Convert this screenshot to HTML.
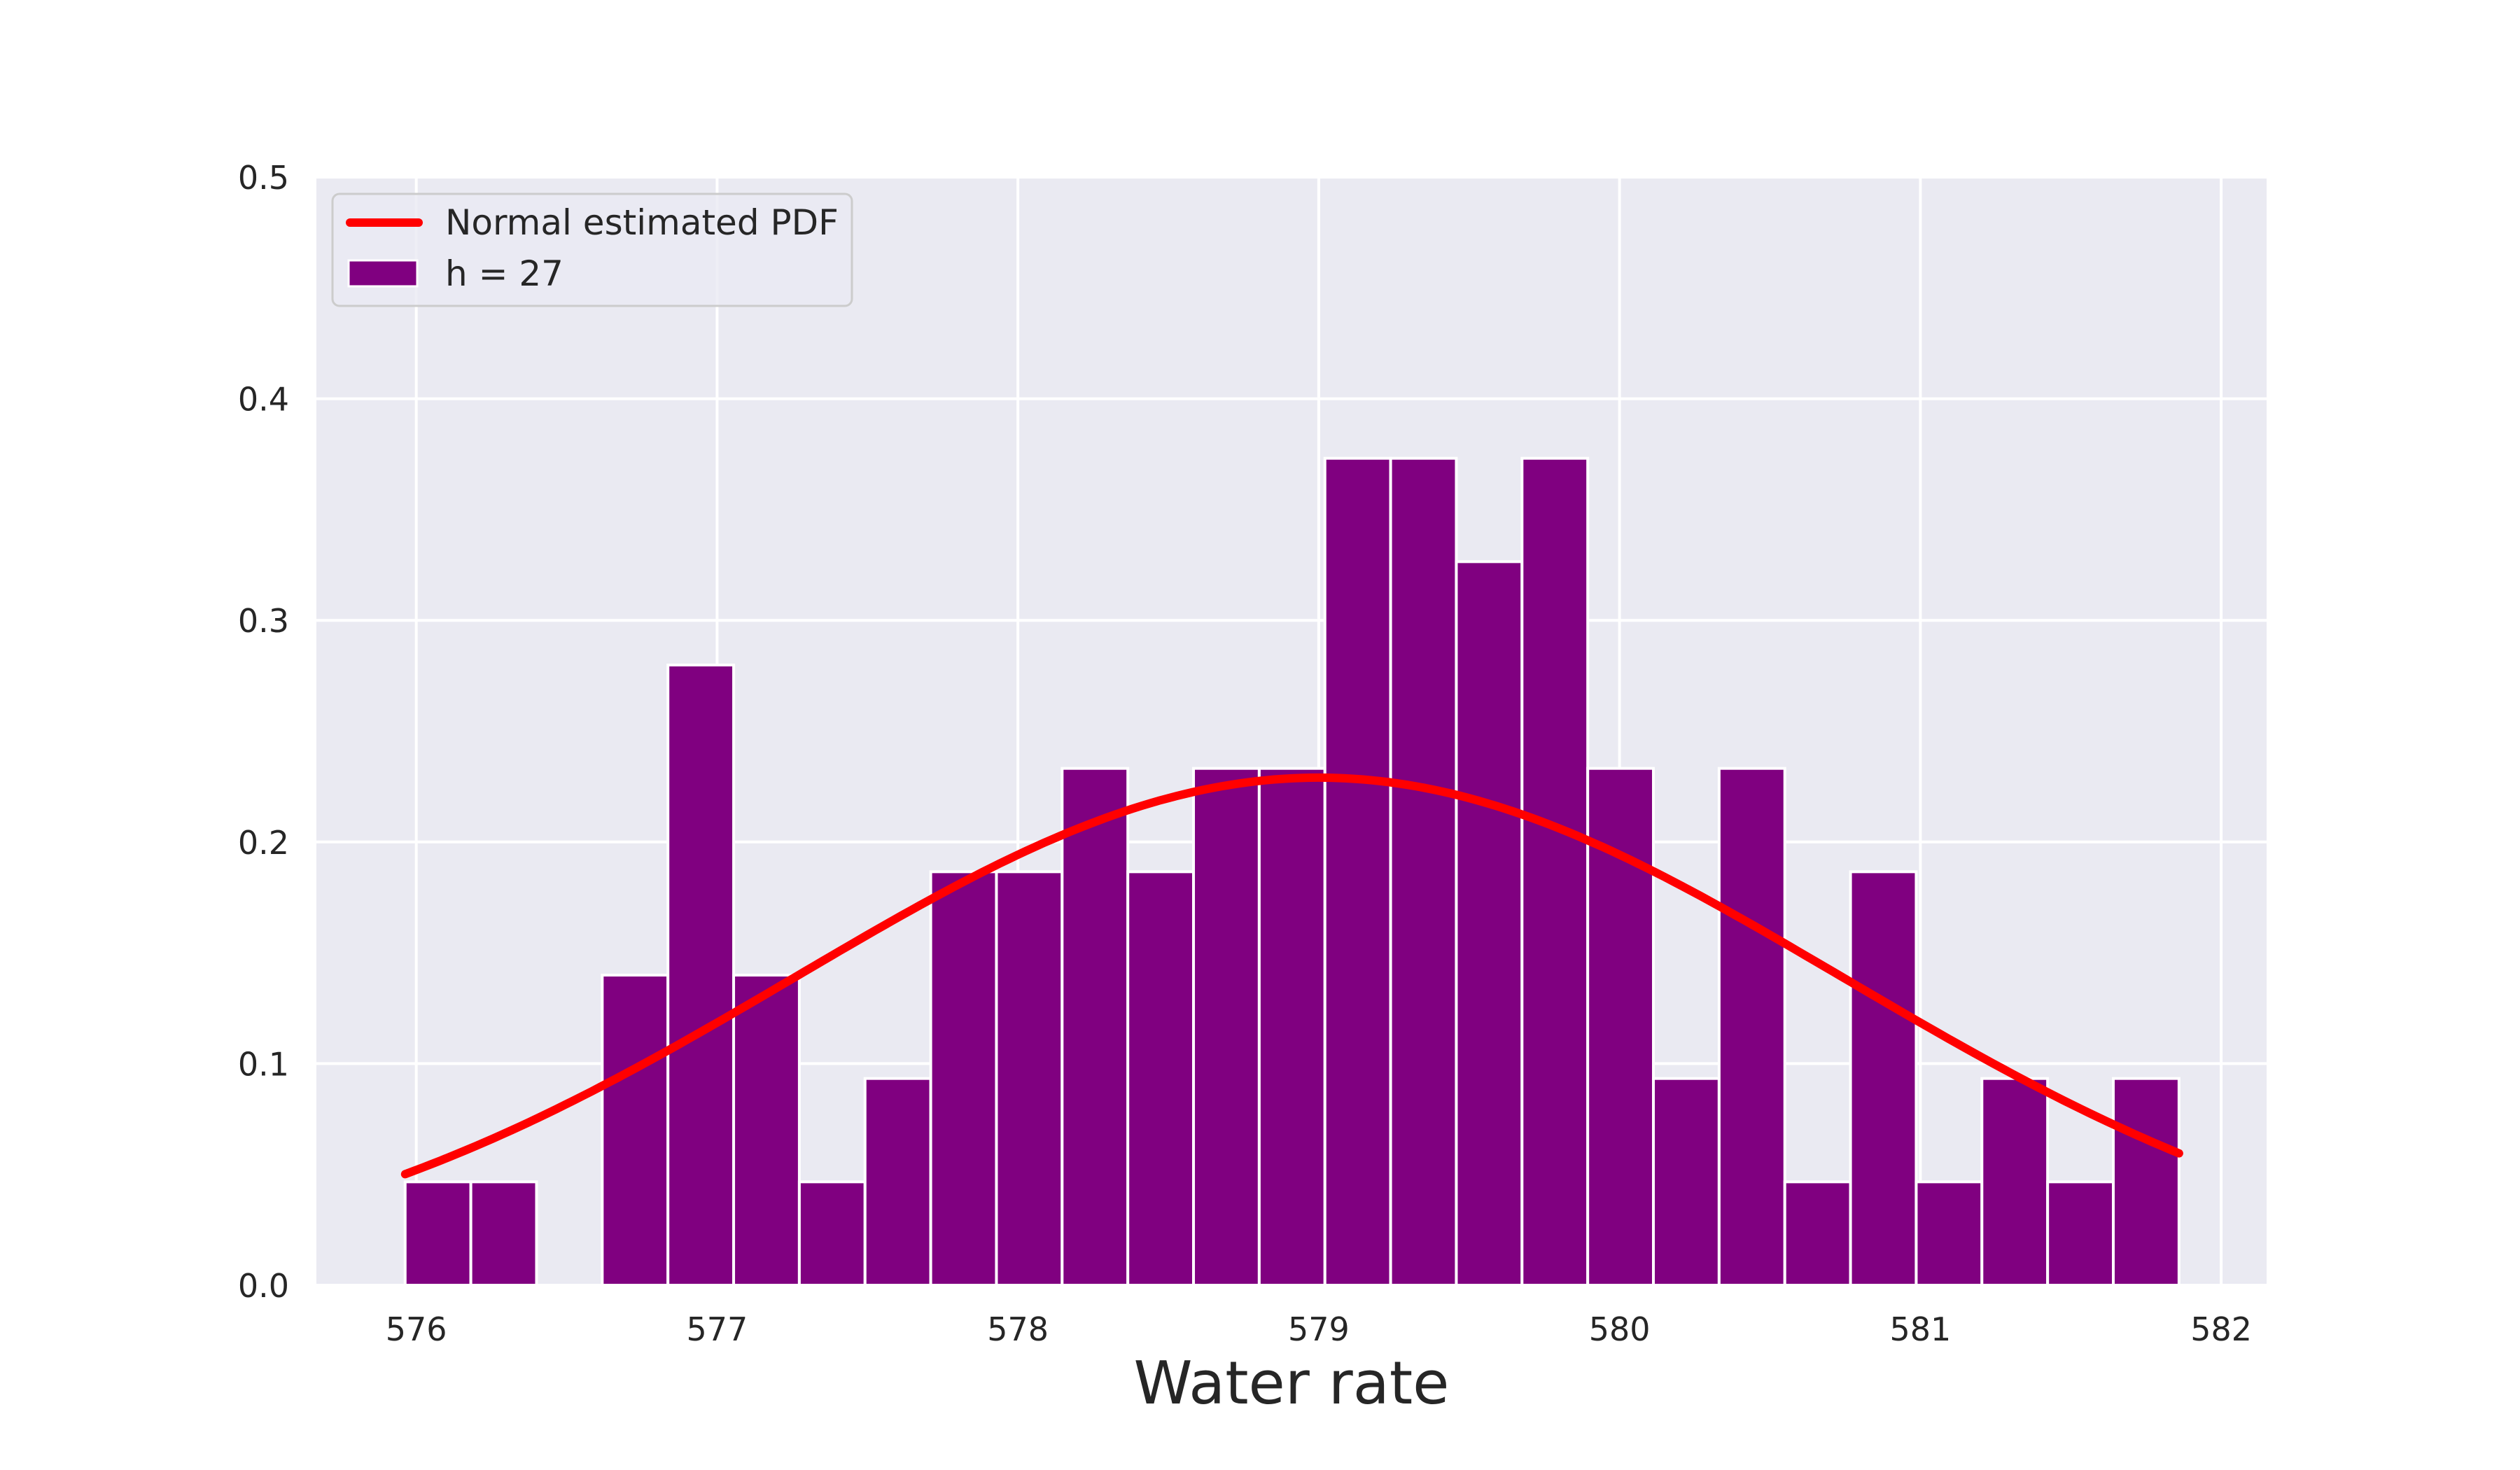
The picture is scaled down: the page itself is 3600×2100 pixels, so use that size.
<!DOCTYPE html>
<html><head><meta charset="utf-8">
<style>
html,body{margin:0;padding:0;background:#fff;}
svg{display:block;font-family:"DejaVu Sans","Liberation Sans",sans-serif;}
</style></head>
<body>
<svg id="chart" width="3600" height="2100" viewBox="0 0 3600 2100" xmlns="http://www.w3.org/2000/svg">
<rect x="452" y="253" width="2786" height="1583" fill="#EAEAF2"/>
<g id="grid"></g>
<g id="bars"></g>
<path id="pdf" fill="none" stroke="#ff0000" stroke-width="12" stroke-linecap="round" stroke-linejoin="round"/>
<g id="xticks" font-size="46" fill="#262626" text-anchor="middle"></g>
<g id="yticks" font-size="46" fill="#262626" text-anchor="end"></g>
<text x="1845" y="2005" font-size="85" fill="#262626" text-anchor="middle">Water rate</text>
<g>
<rect x="475" y="277" width="742" height="160" rx="10" fill="#EAEAF2" fill-opacity="0.8" stroke="#cccccc" stroke-width="3"/>
<line x1="500" y1="318" x2="598" y2="318" stroke="#ff0000" stroke-width="12" stroke-linecap="round"/>
<text x="636" y="335" font-size="50" fill="#262626">Normal estimated PDF</text>
<rect x="498" y="372" width="98" height="37" fill="#800080" stroke="#fff" stroke-width="3"/>
<text x="636" y="408" font-size="50" fill="#262626">h = 27</text>
</g>
</svg>
<script>
const binStart = 575.963;
const binWidth = 0.2184;
const counts = [1,1,0,3,6,3,1,2,4,4,5,4,5,5,8,8,7,8,5,2,5,1,4,1,2,1,2];
const densityUnit = 0.04664;
const pdfMean = 579.0;
const pdfStd = 1.742;
const xTicks = [576,577,578,579,580,581,582];
const yTicks = [0.0,0.1,0.2,0.3,0.4,0.5];

const L=452,R=3238,T=253,B=1836;
const xMin=575.668,xMax=582.151,yMin=0,yMax=0.5;
function X(v){return L+(v-xMin)/(xMax-xMin)*(R-L);}
function Y(v){return B-(v-yMin)/(yMax-yMin)*(B-T);}
const NS="http://www.w3.org/2000/svg";
function mk(tag,parent,attrs){const e=document.createElementNS(NS,tag);for(const k in attrs)e.setAttribute(k,attrs[k]);parent.appendChild(e);return e;}

const grid=document.getElementById('grid');
xTicks.forEach(t=>{
  const l=mk('line',grid,{x1:X(t),x2:X(t),y1:T,y2:B,stroke:'#fff','stroke-width':4});
  
  
  const tx=mk('text',document.getElementById('xticks'),{x:X(t),y:1915});
  tx.textContent=String(t);
  
  
});
yTicks.forEach(t=>{
  const l=mk('line',grid,{x1:L,x2:R,y1:Y(t),y2:Y(t),stroke:'#fff','stroke-width':4});
  
  
  const tx=mk('text',document.getElementById('yticks'),{x:413,y:Y(t)+17});
  tx.textContent=t.toFixed(1);
  
  
});
const bars=document.getElementById('bars');
counts.forEach((c,i)=>{
  if(c===0)return;
  const x0=X(binStart+i*binWidth),x1=X(binStart+(i+1)*binWidth);
  const h=c*densityUnit;
  const r=mk('rect',bars,{x:x0,y:Y(h),width:x1-x0,height:Y(0)-Y(h),fill:'#800080',stroke:'#fff','stroke-width':4});
  
  
});
let d='';
const a=binStart,b=binStart+counts.length*binWidth;
for(let k=0;k<=200;k++){
  const v=a+(b-a)*k/200;
  const p=Math.exp(-0.5*Math.pow((v-pdfMean)/pdfStd,2))/(pdfStd*Math.sqrt(2*Math.PI));
  d+=(k?'L':'M')+X(v).toFixed(1)+' '+Y(p).toFixed(1);
}
document.getElementById('pdf').setAttribute('d',d);
</script>
</body></html>
